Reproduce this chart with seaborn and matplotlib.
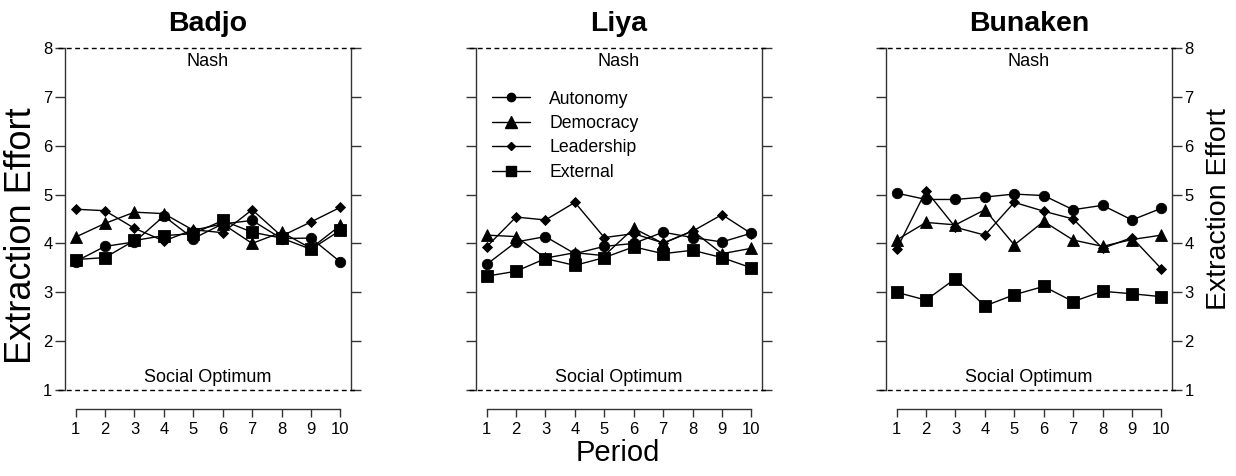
"""
Extraction effort by period for the three villages (Badjo, Liya, Bunaken)
"""

import matplotlib
matplotlib.use('Agg')
import matplotlib.pyplot as plt
import matplotlib.transforms as mtransforms
from matplotlib.lines import Line2D
import seaborn as sns

periods = [1, 2, 3, 4, 5, 6, 7, 8, 9, 10]
sites = ['Badjo', 'Liya', 'Bunaken']
treatments = ['Autonomy', 'Democracy', 'Leadership', 'External']

badjo_autonomy = [3.63, 3.94, 4.03, 4.56, 4.10, 4.40, 4.47, 4.10, 4.11, 3.62]
badjo_democracy = [4.13, 4.41, 4.64, 4.61, 4.27, 4.40, 4.00, 4.23, 3.90, 4.37]
badjo_leadership = [4.70, 4.67, 4.31, 4.05, 4.28, 4.22, 4.69, 4.15, 4.44, 4.74]
badjo_external = [3.67, 3.71, 4.06, 4.16, 4.20, 4.47, 4.23, 4.11, 3.88, 4.27]

liya_autonomy = [3.57, 4.03, 4.14, 3.79, 3.94, 4.00, 4.23, 4.12, 4.03, 4.21]
liya_democracy = [4.17, 4.14, 3.70, 3.81, 3.75, 4.31, 4.00, 4.26, 3.79, 3.90]
liya_leadership = [3.93, 4.54, 4.48, 4.84, 4.12, 4.20, 4.01, 4.25, 4.59, 4.20]
liya_external = [3.33, 3.43, 3.69, 3.55, 3.71, 3.93, 3.79, 3.86, 3.71, 3.50]

bunaken_autonomy = [5.03, 4.90, 4.90, 4.95, 5.01, 4.98, 4.69, 4.78, 4.48, 4.72]
bunaken_democracy = [4.07, 4.43, 4.38, 4.69, 3.97, 4.45, 4.07, 3.94, 4.08, 4.17]
bunaken_leadership = [3.88, 5.08, 4.33, 4.17, 4.84, 4.66, 4.50, 3.90, 4.12, 3.48]
bunaken_external = [3.00, 2.84, 3.28, 2.72, 2.95, 3.12, 2.81, 3.02, 2.97, 2.91]

site_data = {
    'Badjo': [badjo_autonomy, badjo_democracy, badjo_leadership, badjo_external],
    'Liya': [liya_autonomy, liya_democracy, liya_leadership, liya_external],
    'Bunaken': [bunaken_autonomy, bunaken_democracy, bunaken_leadership, bunaken_external],
}

nash_level = 8
social_optimum = 1

# marker per treatment: (marker, size)
marker_styles = [('o', 7.5), ('^', 9), ('D', 5.5), ('s', 8)]
legend_sizes = [6, 8.5, 4.5, 7]

sns.set_theme(style='ticks')
plt.rcParams['font.family'] = ['Liberation Sans', 'DejaVu Sans']
plt.rcParams['text.color'] = 'black'
plt.rcParams['axes.labelcolor'] = 'black'
plt.rcParams['axes.edgecolor'] = '#333333'
plt.rcParams['xtick.color'] = '#333333'
plt.rcParams['ytick.color'] = '#333333'
plt.rcParams['xtick.labelcolor'] = 'black'
plt.rcParams['ytick.labelcolor'] = 'black'

fig = plt.figure(figsize=(12.36, 4.76), dpi=100)
lefts = [65 / 1236, 476 / 1236, 886 / 1236]
width = 286 / 1236
bottom = 86 / 476
height = 342 / 476

axes = []
for i, site in enumerate(sites):
    ax = fig.add_axes([lefts[i], bottom, width, height])
    axes.append(ax)
    for vals, (mk, ms) in zip(site_data[site], marker_styles):
        sns.lineplot(x=periods, y=vals, marker=mk, markersize=ms, color='black',
                     linewidth=1, markeredgecolor='black', markeredgewidth=0.6, ax=ax)

    ax.set_xlim(0.64, 10.36)
    ax.set_ylim(1, 8)
    ax.set_xticks(periods)
    ax.set_yticks(range(1, 9))

    ax.spines['top'].set_visible(False)
    ax.spines['bottom'].set_position(('outward', 14))
    ax.spines['bottom'].set_bounds(1, 10)
    for s in ['left', 'right', 'bottom']:
        ax.spines[s].set_linewidth(1)

    ax.tick_params(axis='x', direction='out', length=6, width=1, labelsize=12, pad=3)
    ax.tick_params(axis='y', direction='out', length=7, width=1, labelsize=12,
                   left=True, right=True, labelleft=(i == 0), labelright=(i == 2), pad=2)

    # Nash / social optimum reference lines, extending over the tick marks
    trans = mtransforms.blended_transform_factory(ax.transAxes, ax.transData)
    for lvl in [nash_level, social_optimum]:
        ax.plot([-0.025, 1.025], [lvl, lvl], transform=trans, color='black',
                linestyle=(0, (3.5, 2.5)), linewidth=1, clip_on=False, zorder=5)
    ax.text(5.5, 7.72, 'Nash', ha='center', va='center', fontsize=13)
    ax.text(5.5, 1.25, 'Social Optimum', ha='center', va='center', fontsize=13)

    ax.set_title(site, fontsize=20.5, fontweight='bold', pad=12)
    ax.set_xlabel('')
    ax.set_ylabel('')

fig.text(22 / 1236, 1 - 236 / 476, 'Extraction Effort', rotation=90,
         ha='center', va='center', fontsize=26)
fig.text(1219 / 1236, 1 - 209 / 476, 'Extraction Effort', rotation=90,
         ha='center', va='center', fontsize=20.5)
fig.text(618 / 1236, 1 - 453 / 476, 'Period', ha='center', va='center', fontsize=21)

handles = [Line2D([0], [0], color='black', linewidth=1, marker=mk, markersize=ls)
           for (mk, _), ls in zip(marker_styles, legend_sizes)]
axes[1].legend(handles, treatments, loc='upper left', bbox_to_anchor=(0.0, 0.922),
               frameon=False, fontsize=12.7, handlelength=2.15, handletextpad=1.1,
               labelspacing=0.42)

plt.savefig('out.png', dpi=100)
plt.close()
